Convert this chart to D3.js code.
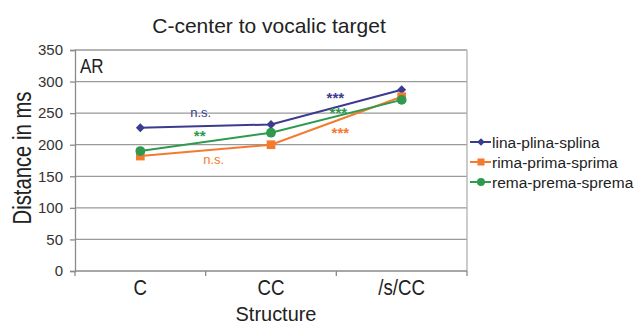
<!DOCTYPE html>
<html>
<head>
<meta charset="utf-8">
<script src="https://cdn.jsdelivr.net/npm/d3@7"></script>
<style>
  html, body { margin: 0; padding: 0; background: #fff; }
  svg { display: block; font-family: "Liberation Sans", Arial, sans-serif; }
</style>
</head>
<body>
<svg id="chart" width="638" height="327"></svg>
<script>
// Categories along the x axis
const categories = ["C", "CC", "/s/CC"];
// Mean distances (ms) per structure
const linaValues = [227, 232, 287];
const rimaValues = [182, 200, 276];
const remaValues = [190, 219, 271];
const seriesNames = ["lina-plina-splina", "rima-prima-sprima", "rema-prema-sprema"];
const yTicks = [0, 50, 100, 150, 200, 250, 300, 350];
// Significance labels between adjacent structures
const sigLabels = [
  { series: 0, seg: 0, text: "n.s." },
  { series: 2, seg: 0, text: "**" },
  { series: 1, seg: 0, text: "n.s." },
  { series: 0, seg: 1, text: "***" },
  { series: 2, seg: 1, text: "***" },
  { series: 1, seg: 1, text: "***" }
];

const colors = ["#3b3b8f", "#f47a2e", "#2e9a4e"];
// Diamond = square turned 45 degrees
const shapes = [d3.symbolSquare, d3.symbolSquare, d3.symbolCircle];
const turns = [45, 0, 0];
const allSeries = [linaValues, rimaValues, remaValues];

const svg = d3.select("#chart");
const plotLeft = 75, plotRight = 467, plotTop = 50, plotBottom = 271;

const x = d3.scaleBand().domain(categories).range([plotLeft, plotRight]);
const y = d3.scaleLinear().domain([0, 350]).range([plotBottom, plotTop]);

// Text drawn in a condensed face: horizontal squeeze around its anchor
function narrowText(parent, tx, ty, str, size, sx, opts = {}) {
  const g = parent.append("g")
    .attr("transform", `translate(${tx},${ty}) rotate(${opts.rotate || 0}) scale(${sx},1)`);
  return g.append("text")
    .attr("text-anchor", opts.anchor || "middle")
    .attr("font-size", size)
    .attr("fill", opts.fill || "#222")
    .text(str);
}

// Gridlines
svg.append("g").selectAll("line").data(yTicks.filter(d => d > 0)).join("line")
  .attr("x1", plotLeft).attr("x2", plotRight)
  .attr("y1", d => y(d)).attr("y2", d => y(d))
  .attr("stroke", "#9a9a9a").attr("stroke-width", 1.3);

// Right border of the plot area
svg.append("line").attr("x1", plotRight).attr("x2", plotRight).attr("y1", plotTop).attr("y2", plotBottom)
  .attr("stroke", "#b0b0b0").attr("stroke-width", 1.3);

// Y axis
const yAxis = svg.append("g").attr("transform", `translate(${plotLeft},0)`)
  .call(d3.axisLeft(y).tickValues(yTicks).tickSize(5).tickPadding(7));
yAxis.select(".domain").attr("stroke", "#8a8a8a").attr("stroke-width", 1.3);
yAxis.selectAll(".tick line").attr("stroke", "#8a8a8a").attr("stroke-width", 1.3);
yAxis.selectAll(".tick text").attr("font-size", 15).attr("fill", "#333")
  .attr("font-family", null);

// X axis with ticks at category boundaries
const xAxis = svg.append("g").attr("transform", `translate(0,${plotBottom})`);
xAxis.append("line").attr("x1", plotLeft).attr("x2", plotRight).attr("y1", 0).attr("y2", 0)
  .attr("stroke", "#8a8a8a").attr("stroke-width", 1.3);
const boundaries = categories.map(c => x(c)).concat([plotRight]);
xAxis.selectAll("line.tk").data(boundaries).join("line").attr("class", "tk")
  .attr("x1", d => d).attr("x2", d => d).attr("y1", 0).attr("y2", 5)
  .attr("stroke", "#8a8a8a").attr("stroke-width", 1.3);
categories.forEach(c => narrowText(xAxis, x(c) + x.bandwidth() / 2, 24, c, 22, 0.85));

// Lines and markers
const cx = c => x(c) + x.bandwidth() / 2;
const line = d3.line().x((d, i) => cx(categories[i])).y(d => y(d));
allSeries.forEach((vals, s) => {
  svg.append("path").datum(vals).attr("d", line)
    .attr("fill", "none").attr("stroke", colors[s]).attr("stroke-width", 2);
  svg.append("g").selectAll("path").data(vals).join("path")
    .attr("transform", (d, i) => `translate(${cx(categories[i])},${y(d)}) rotate(${turns[s]})`)
    .attr("d", d3.symbol().type(shapes[s]).size(s === 0 ? 40 : 75))
    .attr("fill", colors[s]);
});

// Significance labels near the middle of each segment
const sigOffset = { "0-0": [-5, -9], "2-0": [-6, -6], "1-0": [8, 14], "0-1": [-1, -9], "2-1": [2, -3], "1-1": [4, 12] };
sigLabels.forEach(l => {
  const vals = allSeries[l.series];
  const xm = (cx(categories[l.seg]) + cx(categories[l.seg + 1])) / 2;
  const ym = (y(vals[l.seg]) + y(vals[l.seg + 1])) / 2;
  const off = sigOffset[`${l.series}-${l.seg}`];
  const isStar = l.text.startsWith("*");
  svg.append("text")
    .attr("x", xm + off[0]).attr("y", ym + off[1] + (isStar ? 5 : 0))
    .attr("text-anchor", "middle")
    .attr("font-size", isStar ? 15 : 13)
    .attr("font-weight", isStar ? "bold" : "normal")
    .attr("fill", colors[l.series])
    .text(l.text);
});

// Panel label
narrowText(svg, 80, 73, "AR", 20, 0.85, { anchor: "start" });

// Title
svg.append("text").attr("x", 269).attr("y", 33).attr("text-anchor", "middle")
  .attr("font-size", 21).attr("fill", "#222").text("C-center to vocalic target");

// Axis titles
narrowText(svg, 31, 158, "Distance in ms", 26, 0.78, { rotate: -90 });
narrowText(svg, 276, 321, "Structure", 21, 0.95);

// Legend
const legend = svg.append("g");
seriesNames.forEach((name, s) => {
  const ly = 142 + s * 20;
  legend.append("line").attr("x1", 470).attr("x2", 491).attr("y1", ly).attr("y2", ly)
    .attr("stroke", colors[s]).attr("stroke-width", 2);
  legend.append("path").attr("transform", `translate(481,${ly}) rotate(${turns[s]})`)
    .attr("d", d3.symbol().type(shapes[s]).size(s === 0 ? 30 : 50)).attr("fill", colors[s]);
  legend.append("text").attr("x", 492).attr("y", ly + 6).attr("font-size", 15.5)
    .attr("fill", "#222").text(name);
});
</script>
</body>
</html>
